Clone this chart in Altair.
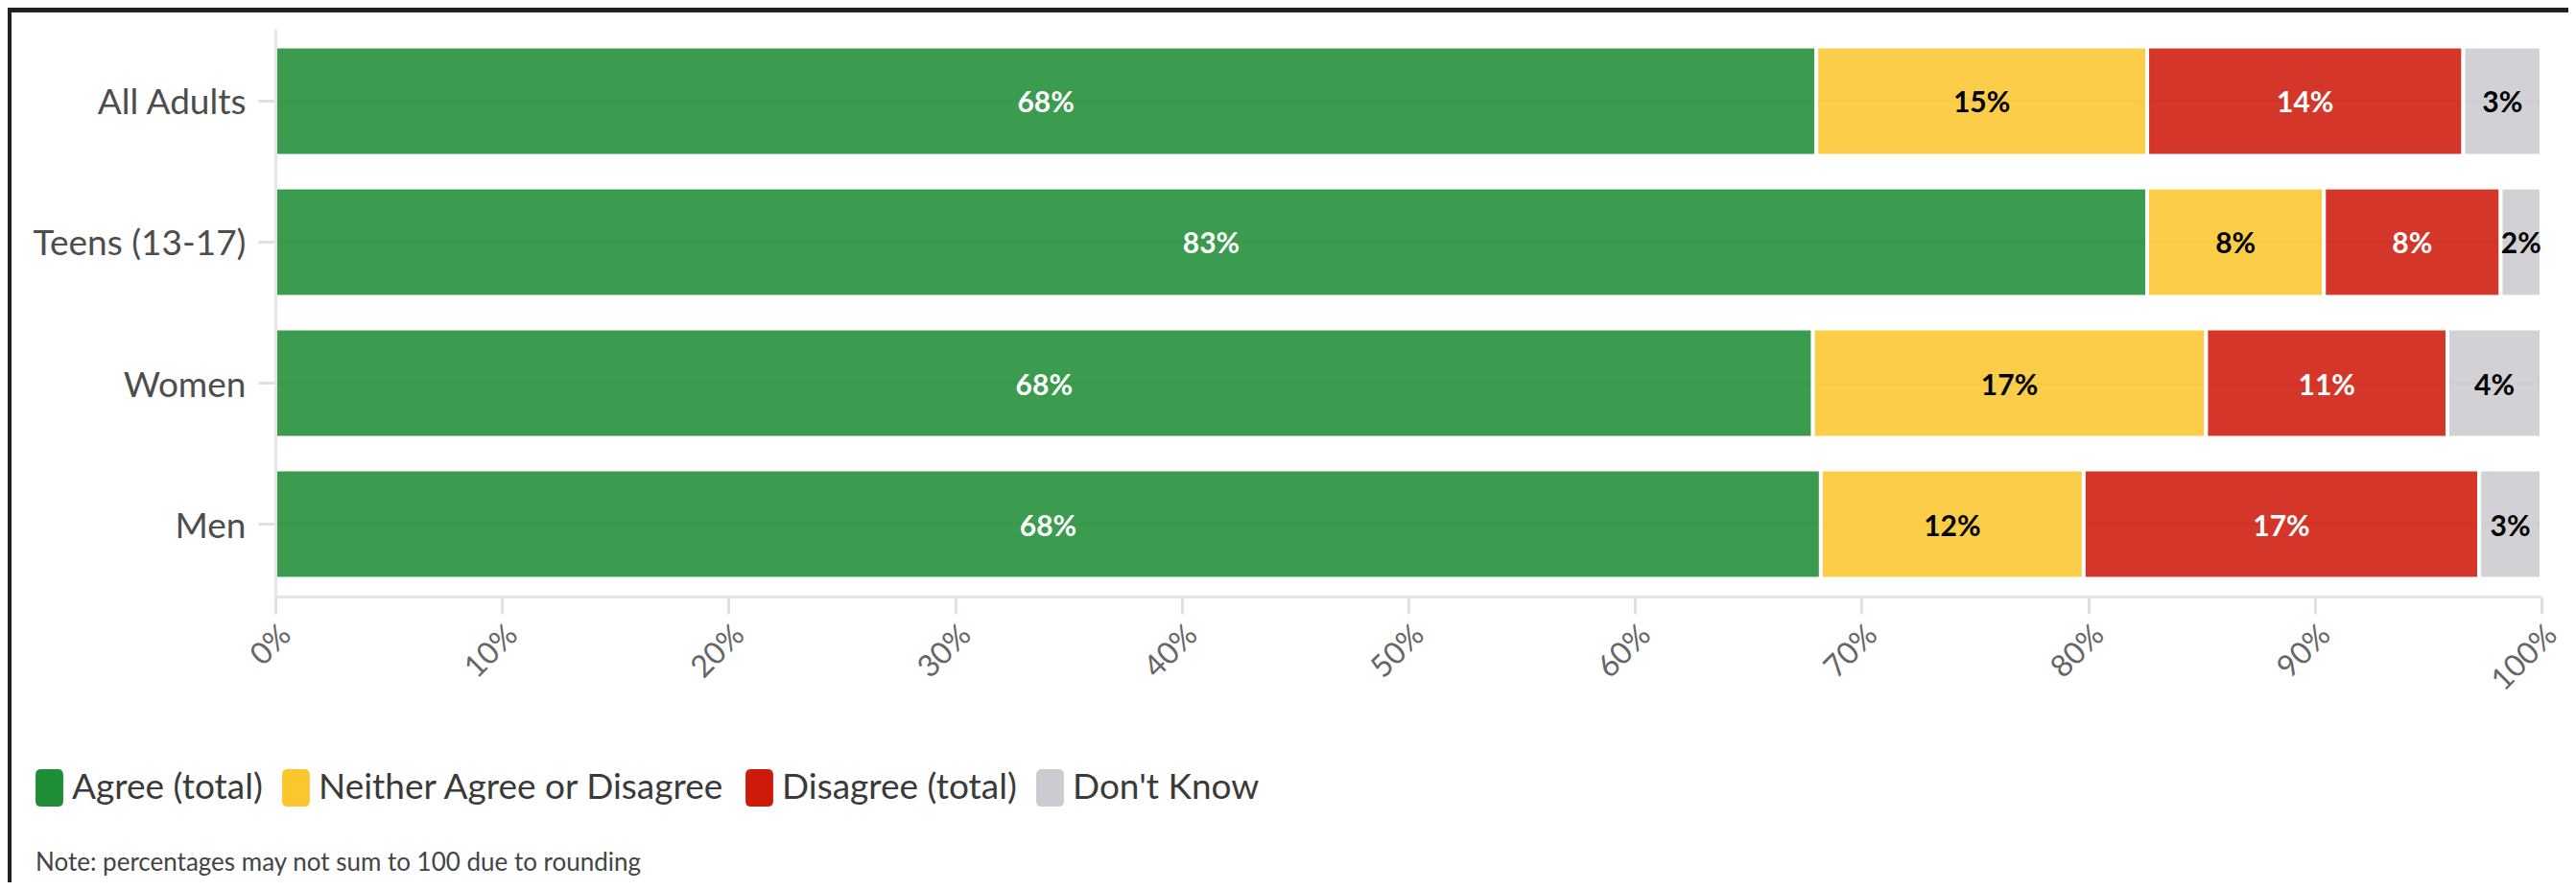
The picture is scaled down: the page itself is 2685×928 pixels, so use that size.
import altair as alt
import pandas as pd

GROUPS = ["All Adults", "Teens (13-17)", "Women", "Men"]
RESPONSES = ["Agree (total)", "Neither Agree or Disagree", "Disagree (total)", "Don't Know"]
COLORS = ["#1f8d36", "#fcc62f", "#ce1a0a", "#cccbd1"]

# shares (percent)
AGREE = [68.0, 82.6, 67.85, 68.2]
NEITHER = [14.6, 7.8, 17.35, 11.6]
DISAGREE = [13.95, 7.8, 10.65, 17.45]
DONT_KNOW = [3.45, 1.8, 4.15, 2.75]

# printed labels
AGREE_LBL = ["68%", "83%", "68%", "68%"]
NEITHER_LBL = ["15%", "8%", "17%", "12%"]
DISAGREE_LBL = ["14%", "8%", "11%", "17%"]
DONT_KNOW_LBL = ["3%", "2%", "4%", "3%"]

X_TICKS = [0, 0.1, 0.2, 0.3, 0.4, 0.5, 0.6, 0.7, 0.8, 0.9, 1.0]
NOTE = "Note: percentages may not sum to 100 due to rounding"

series = [AGREE, NEITHER, DISAGREE, DONT_KNOW]
labels = [AGREE_LBL, NEITHER_LBL, DISAGREE_LBL, DONT_KNOW_LBL]
rows = []
for gi, g in enumerate(GROUPS):
    for ri, r in enumerate(RESPONSES):
        rows.append({"group": g, "response": r, "order": ri,
                     "value": series[ri][gi], "label": labels[ri][gi]})
df = pd.DataFrame(rows)

W, H = 2362, 592
FONT = "Lato"

ROUNDED = ("M -0.74 -0.7 Q -0.74 -1 -0.44 -1 L 0.44 -1 Q 0.74 -1 0.74 -0.7 "
           "L 0.74 0.7 Q 0.74 1 0.44 1 L -0.44 1 Q -0.74 1 -0.74 0.7 Z")

y_enc = alt.Y("group:N", sort=GROUPS, title=None,
              scale=alt.Scale(paddingInner=0.223, paddingOuter=0.125),
              axis=alt.Axis(labelFontSize=37, labelColor="#4d4d4d", labelFont=FONT,
                            tickColor="#e0e0e0", tickWidth=3, tickSize=18,
                            domainColor="#e6e6e6", domainWidth=3, labelPadding=13,
                            labelLimit=0, labelOffset=3, grid=False, zindex=1))

bg = alt.Chart(pd.DataFrame({"a": [0]})).mark_rect(color="white").encode(
    x=alt.value(-275), x2=alt.value(2420), y=alt.value(-17), y2=alt.value(920))

grid = alt.Chart(pd.DataFrame({"group": GROUPS})).mark_rule(
    color="#e6e6e6", strokeWidth=3).encode(
    y=alt.Y("group:N", sort=GROUPS), x=alt.value(0), x2=alt.value(W))

stacked = alt.Chart(df).transform_stack(
    stack="value", groupby=["group"], as_=["x0", "x1"], offset="normalize",
    sort=[alt.SortField("order", order="ascending")]
).transform_calculate(xm="(datum.x0 + datum.x1) / 2")

bars = stacked.mark_bar(opacity=0.87, stroke="white", strokeWidth=4).encode(
    y=y_enc,
    x=alt.X("x0:Q", title=None, scale=alt.Scale(domain=[0, 1], nice=False),
            axis=alt.Axis(values=X_TICKS, format=".0%", labelAngle=-45,
                          labelFontSize=32, labelColor="#666666", labelFont=FONT,
                          tickColor="#e0e0e0", tickWidth=3, tickSize=18,
                          domainColor="#e6e6e6", domainWidth=3, labelPadding=6,
                          labelOverlap=False, grid=False, zindex=1)),
    x2="x1:Q",
    color=alt.Color("response:N", sort=RESPONSES,
                    scale=alt.Scale(domain=RESPONSES, range=COLORS),
                    legend=alt.Legend(orient="none", legendX=-255, legendY=772,
                                      direction="horizontal", title=None,
                                      symbolType=ROUNDED, symbolSize=1521,
                                      symbolStrokeWidth=0, symbolOpacity=1,
                                      labelFontSize=37, labelFont=FONT,
                                      labelColor="#3a3a3a", labelOffset=4,
                                      columnPadding=15, padding=0, labelLimit=0)),
)

text = stacked.mark_text(font=FONT, fontSize=30, fontWeight="bold", dy=3).encode(
    y=alt.Y("group:N", sort=GROUPS),
    x=alt.X("xm:Q"),
    text="label:N",
    color=alt.condition(
        alt.FieldOneOfPredicate(field="response", oneOf=["Agree (total)", "Disagree (total)"]),
        alt.value("white"), alt.value("black")),
)

note = alt.Chart(pd.DataFrame({"note": [NOTE]})).mark_text(
    align="left", baseline="alphabetic", fontSize=26, color="#444444", font=FONT
).encode(text="note:N", x=alt.value(-250), y=alt.value(878))

chart = alt.layer(bg, grid, bars, text, note).properties(
    width=W, height=H,
    padding={"left": 279, "top": 22, "right": 28, "bottom": 298},
    autosize=alt.AutoSizeParams(type="none"),
    background="#212121",
).configure_view(stroke=None)

chart.save("out.html", embed_options={"renderer": "svg", "actions": False})
